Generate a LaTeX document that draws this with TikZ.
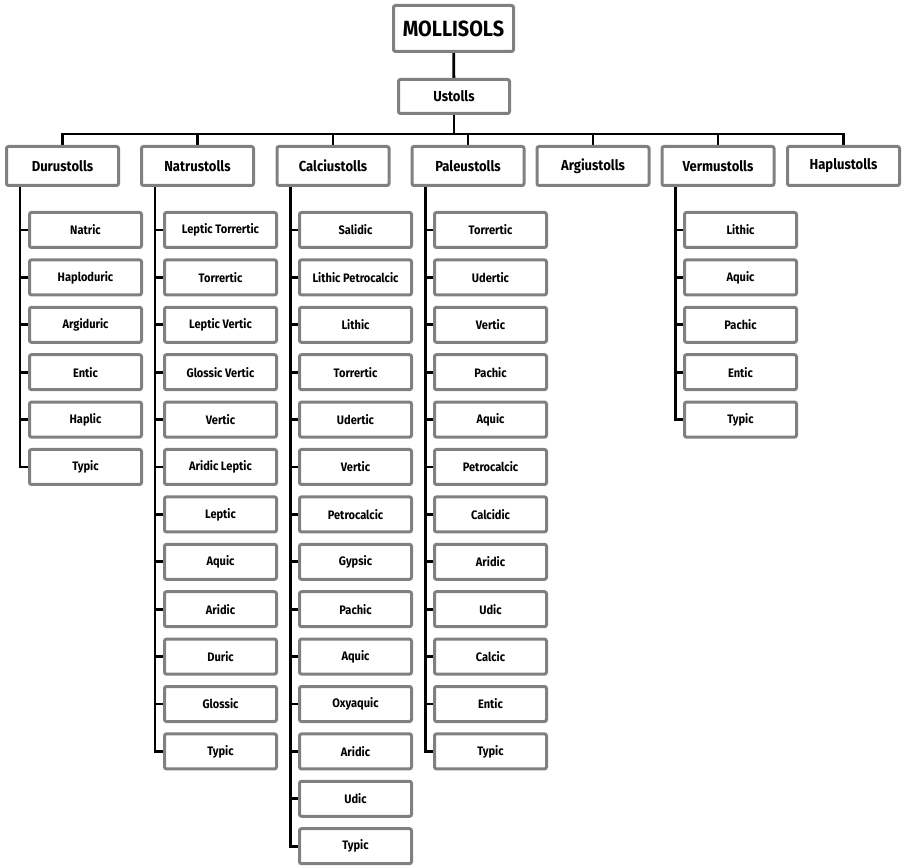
\documentclass[tikz,border=0pt]{standalone}
\usepackage{fontspec}
\setmainfont{Fira Sans}
\newfontfamily\dfont[FakeStretch=0.9]{Fira Sans}
\definecolor{boxgray}{RGB}{128,128,128}
\pgfdeclarelayer{bg}
\pgfsetlayers{bg,main}
\begin{document}
\begin{tikzpicture}[x=1pt,y=-1pt,
  bx/.style={draw=boxgray,line width=3pt,rounded corners=2pt,fill=white,inner sep=0pt},
  leaf/.style={bx,minimum width=112pt,minimum height=35pt,font=\dfont\bfseries\fontsize{12.3}{14}\selectfont},
  grp/.style={bx,minimum width=112pt,minimum height=39pt,font=\dfont\bfseries\fontsize{14.5}{17}\selectfont},
  conn/.style={line width=2.8pt,black}]
\useasboundingbox (0,0) rectangle (903,866);
\node[bx,minimum width=120pt,minimum height=46pt,font=\dfont\bfseries\fontsize{22}{24}\selectfont] (M) at (453.5,28.5) {MOLLISOLS};
\node[bx,minimum width=111pt,minimum height=34pt,font=\dfont\bfseries\fontsize{14.5}{17}\selectfont] (U) at (454,96.5) {Ustolls};
\coordinate (bar) at (454,134);
\node[grp] (D) at (62.5,166) {Durustolls};
\node[grp] (N) at (197.5,166) {Natrustolls};
\node[grp] (C) at (333,166) {Calciustolls};
\node[grp] (P) at (468,166) {Paleustolls};
\node[grp] (A) at (593,166) {Argiustolls};
\node[grp] (V) at (718,166) {Vermustolls};
\node[grp] (H) at (843.5,166) {Haplustolls};
\foreach \t [count=\i] in {Natric,Haploduric,Argiduric,Entic,Haplic,Typic}
  \node[leaf] (D\i) at ({85.5},{230+47.4*(\i-1)}) {\t};
\foreach \t [count=\i] in {Leptic Torrertic,Torrertic,Leptic Vertic,Glossic Vertic,Vertic,Aridic Leptic,Leptic,Aquic,Aridic,Duric,Glossic,Typic}
  \node[leaf] (N\i) at ({220.5},{230+47.4*(\i-1)}) {\t};
\foreach \t [count=\i] in {Salidic,Lithic Petrocalcic,Lithic,Torrertic,Udertic,Vertic,Petrocalcic,Gypsic,Pachic,Aquic,Oxyaquic,Aridic,Udic,Typic}
  \node[leaf] (C\i) at ({355.5},{230+47.4*(\i-1)}) {\t};
\foreach \t [count=\i] in {Torrertic,Udertic,Vertic,Pachic,Aquic,Petrocalcic,Calcidic,Aridic,Udic,Calcic,Entic,Typic}
  \node[leaf] (P\i) at ({490.5},{230+47.4*(\i-1)}) {\t};
\foreach \t [count=\i] in {Lithic,Aquic,Pachic,Entic,Typic}
  \node[leaf] (V\i) at ({740.5},{230+47.4*(\i-1)}) {\t};
\coordinate (Dt) at ([xshift=15pt]D.south west);
\coordinate (Nt) at ([xshift=15pt]N.south west);
\coordinate (Ct) at ([xshift=15pt]C.south west);
\coordinate (Pt) at ([xshift=15pt]P.south west);
\coordinate (Vt) at ([xshift=15pt]V.south west);
\begin{pgfonlayer}{bg}
\draw[conn] (M) -- (U);
\draw[conn] (U) -- (bar);
\draw[conn] (D.center) -- (D.center|-bar) -- (H.center|-bar) -- (H.center);
\foreach \n in {N,C,P,A,V}
  \draw[conn] (\n.center) -- (\n.center|-bar);
\foreach \i in {1,...,6} \draw[conn] (Dt) |- (D\i.center);
\foreach \i in {1,...,12} \draw[conn] (Nt) |- (N\i.center);
\foreach \i in {1,...,14} \draw[conn] (Ct) |- (C\i.center);
\foreach \i in {1,...,12} \draw[conn] (Pt) |- (P\i.center);
\foreach \i in {1,...,5} \draw[conn] (Vt) |- (V\i.center);
\end{pgfonlayer}
\end{tikzpicture}
\end{document}
